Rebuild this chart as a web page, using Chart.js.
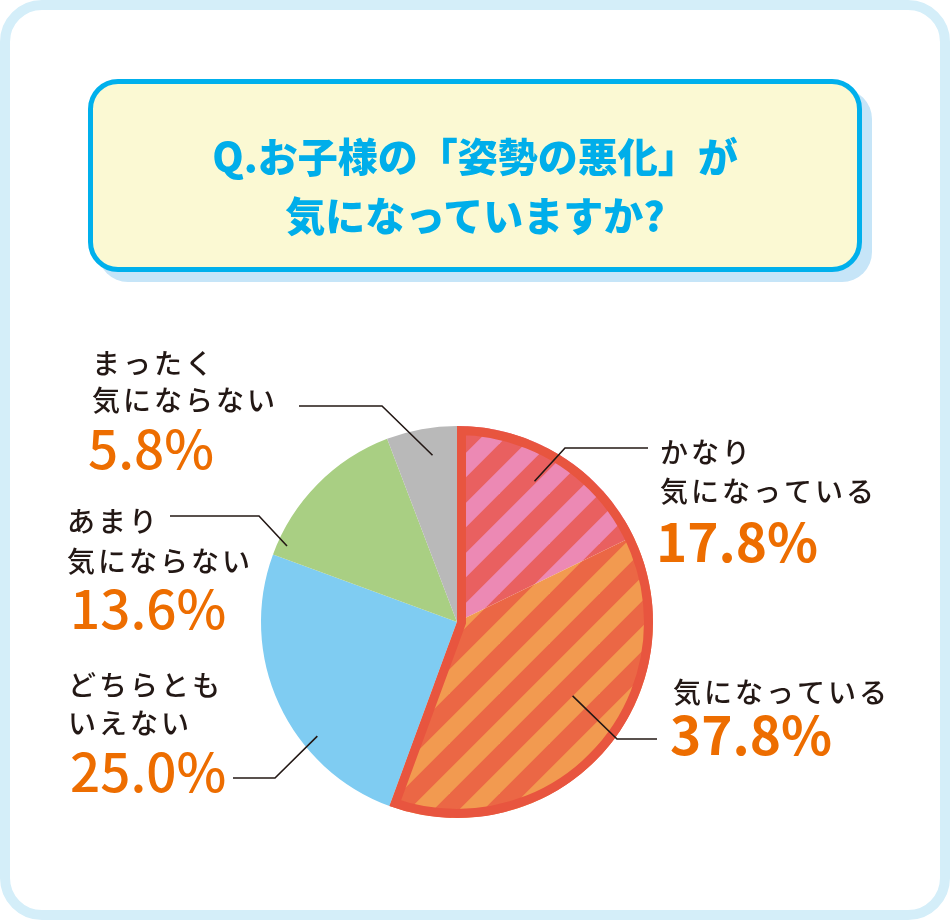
<!DOCTYPE html>
<html lang="ja">
<head>
<meta charset="utf-8">
<title>お子様の姿勢の悪化</title>
<script src="https://cdn.jsdelivr.net/npm/chart.js@4.4.1/dist/chart.umd.min.js"></script>
<style>
  html, body { margin: 0; padding: 0; background: #fff; }
  #wrap { position: relative; width: 950px; height: 920px; overflow: hidden; }
  #frame {
    position: absolute; left: 0; top: 0; width: 950px; height: 920px;
    box-sizing: border-box; border: 10px solid #d4eef9; border-radius: 42px;
  }
  #title {
    position: absolute; left: 88px; top: 79px; width: 774px; height: 193px;
    box-sizing: border-box; border: 5px solid #00b0ec; border-radius: 30px;
    background: #fbf9d3; box-shadow: 10px 10px 0 #c6e5f8; z-index: 2;
  }
  #title p {
    margin: 0; position: absolute; left: 0; right: 0; top: 42px;
    text-align: center; font-family: "Noto Sans CJK JP", sans-serif;
    font-weight: 900; font-size: 40px; line-height: 59px; color: #00aeea;
  }
  #chart { position: absolute; left: 0; top: 0; z-index: 1; }
</style>
</head>
<body>
<div id="wrap">
  <div id="frame"></div>
  <div id="title"><p>Q.お子様の「姿勢の悪化」が<br>気になっていますか?</p></div>
  <canvas id="chart" width="950" height="920"></canvas>
</div>
<script>
// answers, clockwise from 12 o'clock
const categories = ['かなり気になっている', '気になっている', 'どちらともいえない', 'あまり気にならない', 'まったく気にならない'];
const labelLines = [
  ['かなり', '気になっている'],
  ['気になっている'],
  ['どちらとも', 'いえない'],
  ['あまり', '気にならない'],
  ['まったく', '気にならない']
];
const percents = [17.8, 37.8, 25.0, 13.6, 5.8];

// where each callout sits (leader start is taken from the slice itself)
const labelLayout = [
  { frac: 0.45, rk: 0.82, elbow: [565, 448], end: 648, tx: 660, ty: [452, 491], px: 656, py: 542, bold: true },
  { frac: 0.43, rk: 0.70, elbow: [617, 739], end: 657, tx: 673, ty: [692], px: 670, py: 735, bold: true },
  { frac: 0.34, rk: 0.92, elbow: [275, 778], end: 233, tx: 68, ty: [685, 723], px: 70, py: 772 },
  { frac: 0.08, rk: 0.95, elbow: [259, 516], end: 170, tx: 67, ty: [521, 561], px: 70, py: 609 },
  { frac: 0.60, rk: 0.86, elbow: [382, 406], end: 299, tx: 92, ty: [363, 400], px: 88, py: 449 }
];

const TEXT = '#231815';
const ORANGE = '#ed6d00';
const RED = '#e8553f';

// diagonal stripe fill for the "気になっている" side
function stripes(bg, fg) {
  const c = document.createElement('canvas');
  c.width = 50; c.height = 50;
  const x = c.getContext('2d');
  x.fillStyle = bg;
  x.fillRect(0, 0, 50, 50);
  x.strokeStyle = fg;
  x.lineWidth = 18;
  for (let k = -1; k <= 2; k++) {
    const cc = 6 + 50 * k;
    x.beginPath();
    x.moveTo(cc + 60, -60);
    x.lineTo(cc - 60, 60);
    x.stroke();
  }
  return x.createPattern(c, 'repeat');
}

const colors = [
  stripes('#ec89b4', '#e96060'),
  stripes('#f29a50', '#eb6745'),
  '#7fccf2',
  '#a9cf83',
  '#b9b9b9'
];

// red outline round the two "気になる" slices together
const outlinePlugin = {
  id: 'outline',
  afterDatasetsDraw(chart) {
    const arcs = chart.getDatasetMeta(0).data;
    const a = arcs[0], b = arcs[1];
    const ctx = chart.ctx;
    ctx.save();
    ctx.beginPath();
    ctx.moveTo(a.x, a.y);
    ctx.arc(a.x, a.y, a.outerRadius, a.startAngle, b.endAngle);
    ctx.closePath();
    ctx.clip();
    ctx.lineWidth = 18;
    ctx.lineJoin = 'miter';
    ctx.strokeStyle = RED;
    ctx.stroke();
    ctx.restore();
  }
};

function spaced(ctx, str, x, y, gap) {
  for (const ch of str) {
    ctx.fillText(ch, x, y);
    x += ctx.measureText(ch).width + gap;
  }
}

const calloutPlugin = {
  id: 'callouts',
  afterDraw(chart) {
    const ctx = chart.ctx;
    const arcs = chart.getDatasetMeta(0).data;
    ctx.save();
    arcs.forEach((arc, i) => {
      const L = labelLayout[i];
      const ang = arc.startAngle + (arc.endAngle - arc.startAngle) * L.frac;
      const r = arc.outerRadius * L.rk;
      const sx = arc.x + Math.cos(ang) * r;
      const sy = arc.y + Math.sin(ang) * r;

      ctx.beginPath();
      ctx.moveTo(sx, sy);
      ctx.lineTo(L.elbow[0], L.elbow[1]);
      ctx.lineTo(L.end, L.elbow[1]);
      ctx.lineWidth = 1.6;
      ctx.strokeStyle = TEXT;
      ctx.stroke();

      ctx.textBaseline = 'middle';
      ctx.textAlign = 'left';
      ctx.fillStyle = TEXT;
      ctx.font = '500 28px "Noto Sans CJK JP"';
      labelLines[i].forEach((line, j) => spaced(ctx, line, L.tx, L.ty[j], 3));

      ctx.fillStyle = ORANGE;
      ctx.font = (L.bold ? '700 ' : '500 ') + '53px "Noto Sans CJK JP"';
      spaced(ctx, percents[i].toFixed(1) + '%', L.px, L.py, 0);
    });
    ctx.restore();
  }
};

const config = {
  type: 'pie',
  data: {
    labels: categories,
    datasets: [{
      data: percents,
      backgroundColor: colors,
      borderWidth: 0,
      hoverBorderWidth: 0,
      hoverOffset: 0
    }]
  },
  options: {
    responsive: false,
    animation: false,
    events: [],
    layout: { padding: { left: 261, right: 297, top: 426, bottom: 102 } },
    plugins: {
      legend: { display: false },
      tooltip: { enabled: false }
    }
  },
  plugins: [outlinePlugin, calloutPlugin]
};

const myChart = new Chart(document.getElementById('chart'), config);
</script>
</body>
</html>
